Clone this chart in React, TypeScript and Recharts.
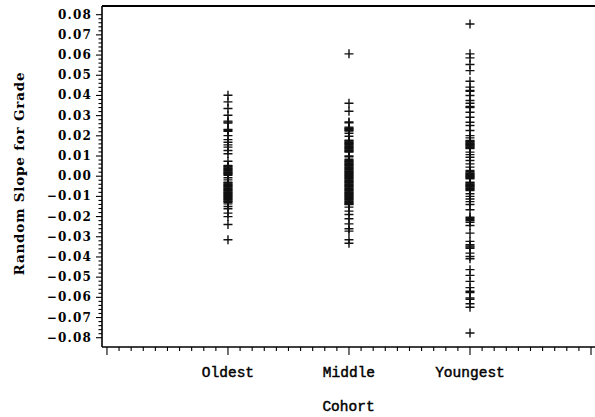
import React from 'react';
import { ScatterChart, Scatter, XAxis, YAxis, ReferenceLine } from 'recharts';

// Cohort categories placed at x = 1, 2, 3
const cohorts = ['Oldest', 'Middle', 'Youngest'];

// Random slope estimates for grade, one value per student, by cohort
const oldestSlopes = [
  0.0401, 0.0368, 0.0335, 0.0302, 0.0273, 0.0268, 0.0263, 0.0232, 0.0227, 0.0222,
  0.0201, 0.0181, 0.0168, 0.0155, 0.0144, 0.0127, 0.0111, 0.0074,
  0.0053, 0.0049, 0.0045, 0.0041, 0.0037, 0.0033, 0.0029, 0.0025, 0.0021, 0.0017, 0.0013, 0.0009, 0.0005,
  -0.0008, -0.0018,
  -0.0030, -0.0034, -0.0038, -0.0042, -0.0046, -0.0050, -0.0054, -0.0058, -0.0062, -0.0066,
  -0.0070, -0.0074, -0.0078, -0.0082, -0.0086, -0.0090, -0.0094, -0.0098, -0.0102, -0.0106,
  -0.0110, -0.0114, -0.0118, -0.0122, -0.0126, -0.0129,
  -0.0137, -0.0150, -0.0161, -0.0183, -0.0200, -0.0239, -0.0315,
];

const middleSlopes = [
  0.0606, 0.0361, 0.0322, 0.0269, 0.0265,
  0.0243, 0.0239, 0.0235, 0.0231, 0.0227, 0.0224, 0.0213, 0.0198,
  0.0178, 0.0174, 0.0170, 0.0166, 0.0162, 0.0158, 0.0154, 0.0150, 0.0146, 0.0142, 0.0138,
  0.0134, 0.0130, 0.0126, 0.0122, 0.0119,
  0.0100, 0.0096, 0.0084,
  0.0078, 0.0074, 0.0070, 0.0066, 0.0062, 0.0058, 0.0054, 0.0050, 0.0046, 0.0042, 0.0038,
  0.0034, 0.0030, 0.0026, 0.0022, 0.0018, 0.0014, 0.0010, 0.0006, 0.0002, -0.0002,
  -0.0006, -0.0010, -0.0014, -0.0018, -0.0022, -0.0026, -0.0030, -0.0034, -0.0038, -0.0042,
  -0.0046, -0.0050, -0.0054, -0.0058, -0.0062, -0.0066, -0.0070, -0.0074, -0.0078, -0.0082,
  -0.0086, -0.0090, -0.0094, -0.0098, -0.0102, -0.0106, -0.0110, -0.0114, -0.0118, -0.0122,
  -0.0126, -0.0130, -0.0134, -0.0138, -0.0141,
  -0.0153, -0.0173, -0.0190, -0.0211, -0.0236, -0.0260, -0.0272, -0.0315, -0.0332,
];

const youngestSlopes = [
  0.0754, 0.0606, 0.0586, 0.0553, 0.0523, 0.0470, 0.0441, 0.0425, 0.0420, 0.0400,
  0.0375, 0.0361, 0.0345, 0.0340, 0.0317, 0.0292, 0.0267, 0.0251, 0.0226, 0.0201, 0.0190,
  0.0177, 0.0173, 0.0169, 0.0165, 0.0161, 0.0157, 0.0153, 0.0149, 0.0145, 0.0141, 0.0137,
  0.0119, 0.0107, 0.0094, 0.0078, 0.0061, 0.0045,
  0.0028, 0.0022, 0.0016, 0.0012, 0.0008, 0.0004, 0.0000, -0.0004, -0.0008, -0.0013,
  -0.0030, -0.0034, -0.0038, -0.0042, -0.0046, -0.0050, -0.0054, -0.0058, -0.0062, -0.0066, -0.0071,
  -0.0087, -0.0100, -0.0113, -0.0126, -0.0140, -0.0166,
  -0.0203, -0.0209, -0.0215, -0.0220, -0.0228, -0.0244, -0.0282, -0.0323,
  -0.0339, -0.0345, -0.0351, -0.0357, -0.0381, -0.0398, -0.0409,
  -0.0463, -0.0491, -0.0521, -0.0552, -0.0570, -0.0576, -0.0603, -0.0610,
  -0.0632, -0.0649, -0.0777,
];

const seriesByCohort = [oldestSlopes, middleSlopes, youngestSlopes];

// Labelled y-axis ticks
const yMajorTicks = [
  -0.08, -0.07, -0.06, -0.05, -0.04, -0.03, -0.02, -0.01, 0,
  0.01, 0.02, 0.03, 0.04, 0.05, 0.06, 0.07, 0.08,
];

const Y_DOMAIN: [number, number] = [-0.0846, 0.0843];
const X_DOMAIN: [number, number] = [-0.041, 4.033];

// Minor ticks every 0.002 on y and every 0.1 on x
const yAllTicks = Array.from({ length: 81 }, (_, i) => Math.round((i - 40) * 2) / 1000);
const xAllTicks = Array.from({ length: 41 }, (_, i) => i / 10);

const INK = '#000';
const serifBold = '"DejaVu Serif", serif';
const mono = '"Liberation Mono", "Courier New", monospace';

const formatY = (v: number) => {
  const s = Math.abs(v).toFixed(2);
  return v < -1e-9 ? '\u2212' + s : s;
};

const YTick = (props: any) => {
  const { x, y, payload } = props;
  const v = payload.value as number;
  const major = yMajorTicks.some((t) => Math.abs(t - v) < 1e-7);
  return (
    <g>
      <line x1={x - (major ? 6 : 3.5)} x2={x} y1={y} y2={y} stroke={INK} strokeWidth={1.1} />
      {major && (
        <text
          x={x - 10}
          y={y}
          textAnchor="end"
          dominantBaseline="central"
          fontFamily={serifBold}
          fontWeight="bold"
          fontSize={12}
          letterSpacing={1.2}
          fill={INK}
        >
          {formatY(v)}
        </text>
      )}
    </g>
  );
};

const XTick = (props: any) => {
  const { x, y, payload } = props;
  const v = payload.value as number;
  const major = Math.abs(v - Math.round(v)) < 1e-7;
  const name = major ? cohorts[Math.round(v) - 1] : undefined;
  return (
    <g>
      <line x1={x} x2={x} y1={y} y2={y + (major ? 8 : 4)} stroke={INK} strokeWidth={1.1} />
      {name && (
        <text
          x={x}
          y={y + 30}
          textAnchor="middle"
          fontFamily={mono}
          fontSize={14.5}
          stroke={INK}
          strokeWidth={0.45}
          fill={INK}
        >
          {name}
        </text>
      )}
    </g>
  );
};

const PlusMark = (props: any) => {
  const { cx, cy } = props;
  if (cx == null || cy == null) return null;
  const h = 4.5;
  return (
    <path
      d={`M${cx - h},${cy}H${cx + h}M${cx},${cy - h}V${cy + h}`}
      stroke="#111"
      strokeWidth={1.4}
      fill="none"
    />
  );
};

const YLabel = (props: any) => {
  const vb = props.viewBox;
  const cx = vb.x + 19;
  const cy = vb.y + vb.height / 2 - 3;
  return (
    <text
      x={cx}
      y={cy}
      transform={`rotate(-90 ${cx} ${cy})`}
      textAnchor="middle"
      dominantBaseline="central"
      fontFamily={serifBold}
      fontWeight="bold"
      fontSize={13.5}
      letterSpacing={0.8}
      fill={INK}
    >
      Random Slope for Grade
    </text>
  );
};

const XLabel = (props: any) => {
  const vb = props.viewBox;
  return (
    <text
      x={vb.x + vb.width / 2}
      y={vb.y + 64}
      textAnchor="middle"
      fontFamily={mono}
      fontSize={14.5}
      stroke={INK}
      strokeWidth={0.45}
      fill={INK}
    >
      Cohort
    </text>
  );
};

export default function App() {
  return (
    <div style={{ position: 'absolute', left: 0, top: 0, width: 595, height: 417, background: '#fff' }}>
      <ScatterChart width={595} height={417} margin={{ top: 6, right: 0, bottom: 0, left: 0 }}>
        <XAxis
          type="number"
          dataKey="x"
          domain={X_DOMAIN}
          ticks={xAllTicks}
          interval={0}
          height={70}
          tickSize={0}
          tickMargin={0}
          tick={<XTick />}
          axisLine={{ stroke: INK, strokeWidth: 1.6 }}
          allowDataOverflow
          label={XLabel}
        />
        <YAxis
          type="number"
          dataKey="y"
          domain={Y_DOMAIN}
          ticks={yAllTicks}
          interval={0}
          width={102}
          tickSize={0}
          tickMargin={0}
          tick={<YTick />}
          axisLine={{ stroke: INK, strokeWidth: 1.6 }}
          allowDataOverflow
          label={YLabel}
        />
        <ReferenceLine y={Y_DOMAIN[1]} stroke={INK} strokeWidth={2} />
        {seriesByCohort.map((values, i) => (
          <Scatter
            key={cohorts[i]}
            name={cohorts[i]}
            data={values.map((v) => ({ x: i + 1, y: v }))}
            shape={PlusMark}
            isAnimationActive={false}
          />
        ))}
      </ScatterChart>
    </div>
  );
}
